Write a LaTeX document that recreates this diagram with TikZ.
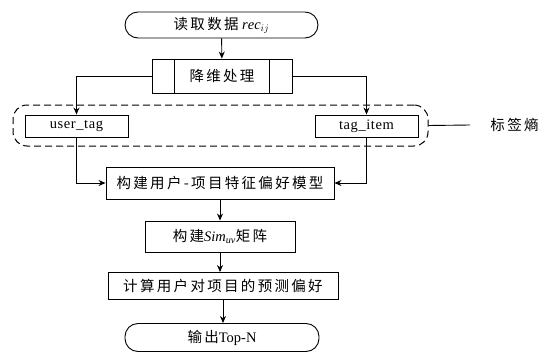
\documentclass[tikz,border=0pt]{standalone}
\usepackage{fontspec}
\setmainfont{Liberation Serif}
\newfontfamily\cjk[LetterSpace=16]{Noto Sans CJK SC}
\usetikzlibrary{arrows.meta}
\begin{document}
\begin{tikzpicture}[x=1pt,y=-1pt,line width=0.9pt,
  box/.style={draw,rectangle,inner sep=0pt,font=\fontsize{14.5}{16}\selectfont},
  term/.style={box,rounded corners=13pt},
  grp/.style={draw,dashed,line width=1pt,dash pattern=on 7pt off 4pt,rounded corners=14pt,inner sep=0pt},
  arr/.style={-{Stealth[length=7pt,width=6pt]}},
  lbl/.style={inner sep=0pt,font=\fontsize{14.5}{16}\selectfont}]
\useasboundingbox (0,0) rectangle (547,359);
% top terminal
\node[term,minimum width=193pt,minimum height=26pt] (read) at (221.5,25)
  {{\cjk 读取数据} $\mathit{rec}_{ij}$};
% reduce dimension box
\node[box,minimum width=140pt,minimum height=34pt] (jw) at (222,76) {\cjk 降维处理};
\draw ([xshift=23pt]jw.north west) -- ([xshift=23pt]jw.south west);
\draw ([xshift=-23pt]jw.north east) -- ([xshift=-23pt]jw.south east);
% dashed group
\node[grp,minimum width=415pt,minimum height=41pt] (tags) at (220.5,125.5) {};
\node[box,minimum width=103pt,minimum height=22pt] (ut) at (76.5,126)
  {\addfontfeature{LetterSpace=4}user\_tag};
\node[box,minimum width=103pt,minimum height=22pt] (ti) at (366.5,126)
  {\addfontfeature{LetterSpace=4}tag\_item};
\node[lbl,anchor=west] (tl) at (490,125) {\cjk 标签熵};
\draw (tags.east) -- ([xshift=-20pt]tl.west);
% model box
\node[box,minimum width=228pt,minimum height=32pt] (model) at (220,183)
  {\cjk 构建用户-项目特征偏好模型};
\node[box,minimum width=150pt,minimum height=31pt] (sim) at (220,236.5)
  {{\cjk 构建}\textit{Sim}$_{\mathit{uv}}${\cjk 矩阵}};
\node[box,minimum width=230pt,minimum height=27pt] (pred) at (223,286)
  {\cjk 计算用户对项目的预测偏好};
\node[term,minimum width=194pt,minimum height=28pt] (out) at (222,337.5)
  {{\cjk 输出}Top-N};
% connectors
\draw[arr] (read) -- (jw);
\draw[arr] (jw.west) -| (ut.north);
\draw[arr] (jw.east) -| (ti.north);
\draw[arr] (ut.south) |- (model.west);
\draw[arr] (ti.south) |- (model.east);
\draw[arr] (model.south) -- (model.south |- sim.north);
\draw[arr] (sim.south) -- (sim.south |- pred.north);
\draw[arr] (pred.south) -- (pred.south |- out.north);
\end{tikzpicture}
\end{document}
